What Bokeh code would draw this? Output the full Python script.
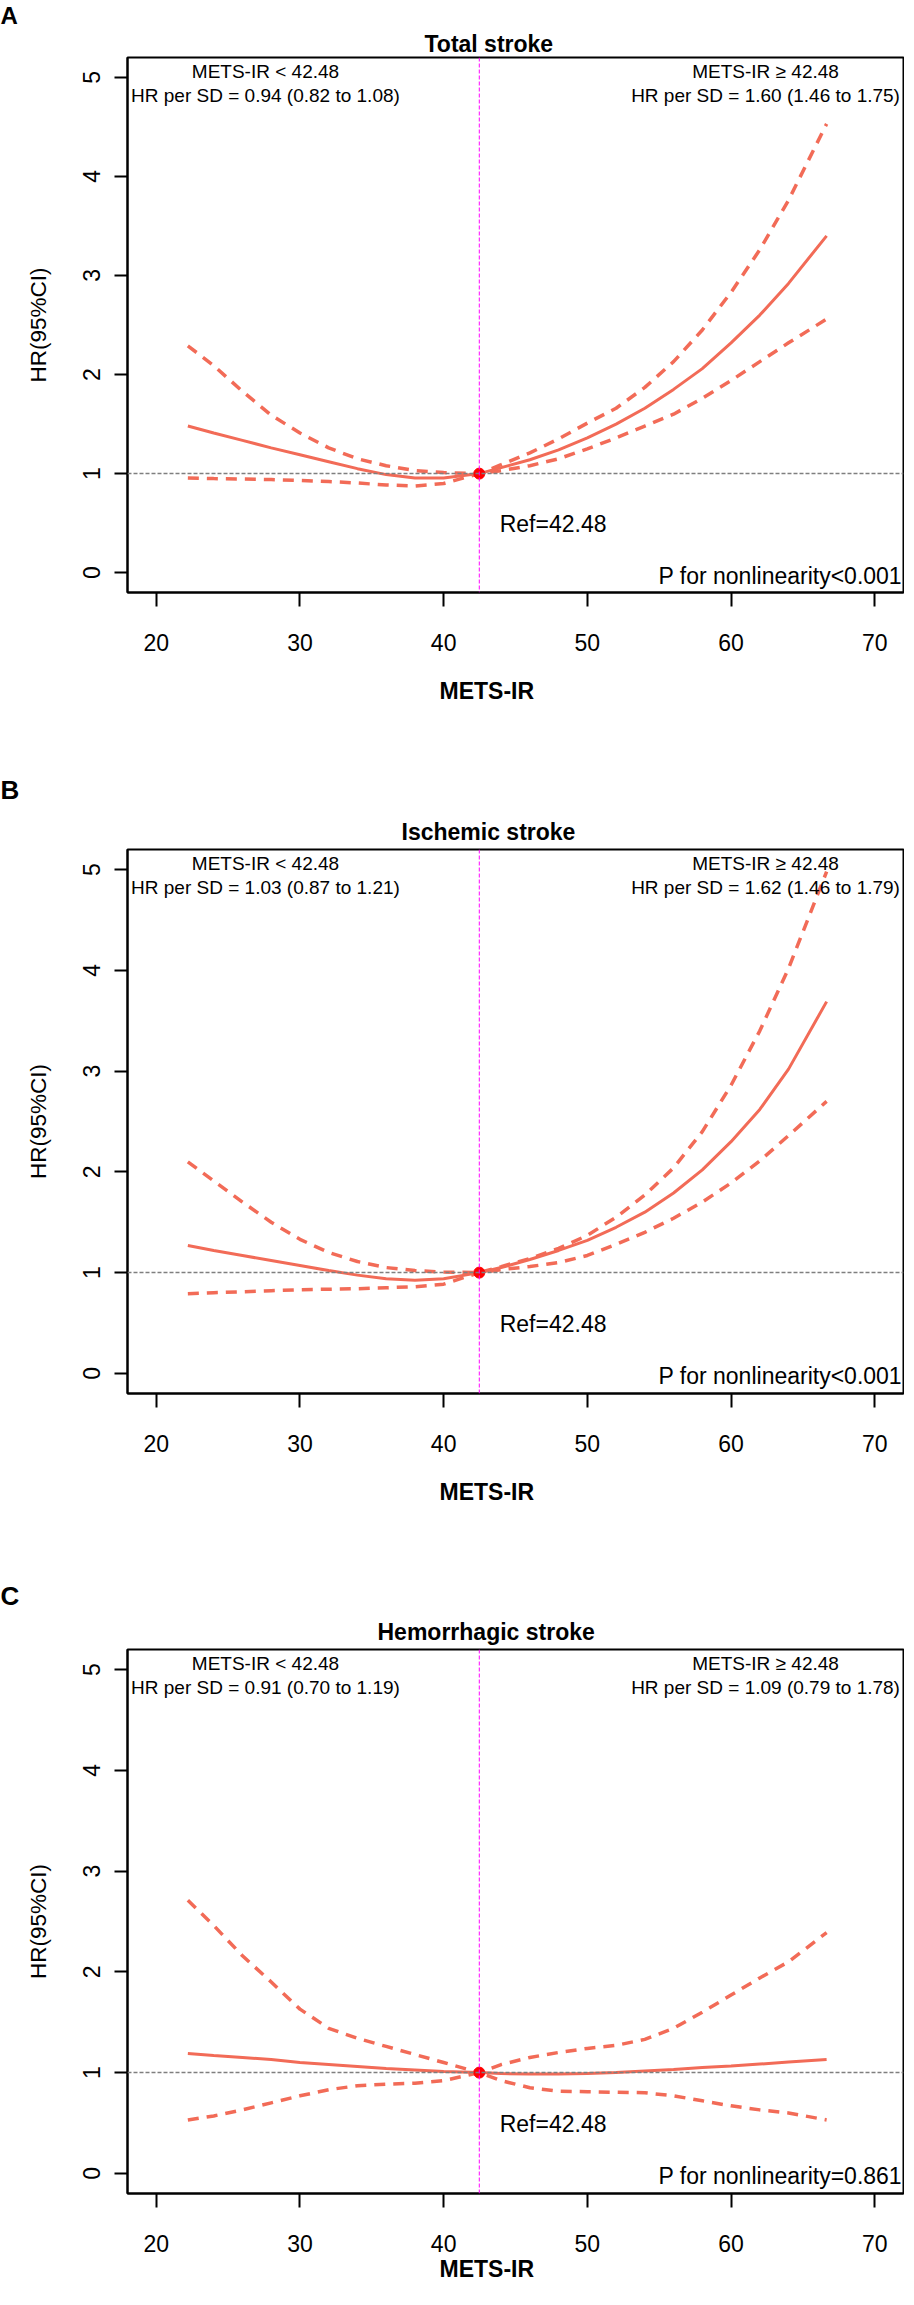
from bokeh.plotting import figure
from bokeh.models import Range1d, FixedTicker, Span, Title
from bokeh.layouts import column
from bokeh.embed import file_html
from bokeh.resources import INLINE
from bokeh.core.properties import value

# ---------------- data ----------------
REF = 42.48
X_TICKS = [20, 30, 40, 50, 60, 70]
Y_TICKS = [0, 1, 2, 3, 4, 5]

METS_IR = [22.2, 24, 26, 28, 30, 32, 34, 36, 38, 40, 42.48,
           44, 46, 48, 50, 52, 54, 56, 58, 60, 62, 64, 66.65]

# Panel A: Total stroke
A_EST = [1.48, 1.41, 1.335, 1.26, 1.19, 1.12, 1.05, 0.99, 0.955, 0.955, 1.0,
         1.06, 1.14, 1.24, 1.36, 1.50, 1.66, 1.85, 2.06, 2.32, 2.60, 2.92, 3.40]
A_LOW = [0.955, 0.95, 0.945, 0.94, 0.93, 0.92, 0.905, 0.885, 0.875, 0.90, 1.0,
         1.03, 1.08, 1.15, 1.25, 1.36, 1.48, 1.60, 1.76, 1.94, 2.13, 2.32, 2.56]
A_UPP = [2.29, 2.09, 1.83, 1.59, 1.41, 1.26, 1.15, 1.08, 1.03, 1.01, 1.0,
         1.09, 1.21, 1.35, 1.51, 1.66, 1.87, 2.13, 2.45, 2.83, 3.26, 3.76, 4.53]

# Panel B: Ischemic stroke
B_EST = [1.27, 1.22, 1.17, 1.12, 1.07, 1.02, 0.975, 0.94, 0.925, 0.94, 1.0,
         1.05, 1.13, 1.22, 1.32, 1.45, 1.60, 1.79, 2.02, 2.30, 2.62, 3.02, 3.69]
B_LOW = [0.79, 0.80, 0.81, 0.82, 0.83, 0.835, 0.84, 0.85, 0.86, 0.885, 1.0,
         1.03, 1.06, 1.10, 1.17, 1.28, 1.40, 1.54, 1.70, 1.89, 2.11, 2.36, 2.70]
B_UPP = [2.10, 1.91, 1.70, 1.50, 1.33, 1.20, 1.11, 1.05, 1.02, 1.005, 1.0,
         1.06, 1.14, 1.24, 1.37, 1.55, 1.77, 2.04, 2.40, 2.86, 3.40, 4.02, 4.98]

# Panel C: Hemorrhagic stroke
C_EST = [1.19, 1.17, 1.15, 1.13, 1.10, 1.08, 1.06, 1.04, 1.025, 1.01, 1.0,
         0.99, 0.985, 0.985, 0.99, 1.0, 1.015, 1.03, 1.05, 1.065, 1.085, 1.105, 1.13]
C_LOW = [0.53, 0.57, 0.63, 0.70, 0.77, 0.83, 0.87, 0.885, 0.895, 0.92, 1.0,
         0.92, 0.85, 0.815, 0.81, 0.805, 0.80, 0.77, 0.72, 0.67, 0.63, 0.60, 0.53]
C_UPP = [2.71, 2.46, 2.16, 1.90, 1.63, 1.44, 1.34, 1.26, 1.18, 1.10, 1.0,
         1.08, 1.15, 1.20, 1.24, 1.27, 1.33, 1.44, 1.60, 1.77, 1.94, 2.10, 2.39]

LETTERS = ["A", "B", "C"]
TITLES = ["Total stroke", "Ischemic stroke", "Hemorrhagic stroke"]
LEFT_TEXT = [
    ["METS-IR < 42.48", "HR per SD = 0.94 (0.82 to 1.08)"],
    ["METS-IR < 42.48", "HR per SD = 1.03 (0.87 to 1.21)"],
    ["METS-IR < 42.48", "HR per SD = 0.91 (0.70 to 1.19)"],
]
RIGHT_TEXT = [
    ["METS-IR \u2265 42.48", "HR per SD = 1.60 (1.46 to 1.75)"],
    ["METS-IR \u2265 42.48", "HR per SD = 1.62 (1.46 to 1.79)"],
    ["METS-IR \u2265 42.48", "HR per SD = 1.09 (0.79 to 1.78)"],
]
P_TEXT = ["P for nonlinearity<0.001", "P for nonlinearity<0.001", "P for nonlinearity=0.861"]
REF_TEXT = "Ref=42.48"
X_TITLE = "METS-IR"
Y_TITLE = "HR(95%CI)"

SERIES = [(A_EST, A_LOW, A_UPP), (B_EST, B_LOW, B_UPP), (C_EST, C_LOW, C_UPP)]

# ---------------- style / layout ----------------
FONT = "Liberation Sans"
CURVE = "#F26B57"
FRAME_W = 776
FRAME_H = [535, 544, 544]
TOP_BORDERS = [57, 82, 70]
HEIGHTS = [766, 811, 704]
LETTER_SIZE = ["24px", "26px", "26px"]
LETTER_STANDOFF = [0, 15, 3]
TITLE_STANDOFF = [0, 8, 8]
TITLE_OFFSET = [297, 274, 250]
XTITLE_STANDOFF = [46, 46, 0]
XLABEL_STANDOFF = 27


def make_panel(i):
    est, low, upp = SERIES[i]
    top = TOP_BORDERS[i]
    fh = FRAME_H[i]
    bottom = HEIGHTS[i] - top - fh
    p = figure(frame_width=FRAME_W, frame_height=fh,
               x_range=Range1d(18, 72), y_range=Range1d(-0.2, 5.2),
               min_border_left=127, min_border_right=1,
               min_border_top=top, min_border_bottom=bottom,
               output_backend="svg", toolbar_location=None)
    p.xgrid.visible = False
    p.ygrid.visible = False
    p.outline_line_color = "black"
    p.outline_line_width = 2
    p.outline_line_alpha = 1.0

    for ax, tick_out in ((p.xaxis[0], 14), (p.yaxis[0], 13)):
        ax.minor_tick_line_color = None
        ax.minor_tick_out = 0
        ax.minor_tick_in = 0
        ax.major_tick_in = 0
        ax.major_tick_out = tick_out
        ax.major_tick_line_width = 2
        ax.major_tick_line_color = "black"
        ax.axis_line_width = 2
        ax.axis_line_color = "black"
        ax.major_label_text_font = FONT
        ax.major_label_text_font_size = "23px"
        ax.major_label_text_color = "black"
    p.xaxis.ticker = FixedTicker(ticks=X_TICKS)
    p.yaxis.ticker = FixedTicker(ticks=Y_TICKS)
    p.xaxis.major_label_standoff = XLABEL_STANDOFF
    p.yaxis.major_label_standoff = 14
    p.yaxis.major_label_orientation = "vertical"
    p.yaxis.axis_label = Y_TITLE
    p.yaxis.axis_label_text_font = FONT
    p.yaxis.axis_label_text_font_size = "22.5px"
    p.yaxis.axis_label_text_font_style = "normal"
    p.yaxis.axis_label_text_color = "black"
    p.yaxis.axis_label_standoff = 30

    # curves
    p.line(METS_IR, upp, line_color=CURVE, line_width=3.5, line_dash="11 8")
    p.line(METS_IR, low, line_color=CURVE, line_width=3.5, line_dash="11 8")
    p.line(METS_IR, est, line_color=CURVE, line_width=3)

    p.add_layout(Span(location=1, dimension="width", line_color="#7f7f7f",
                      line_width=1.5, line_dash="4 2"))
    p.add_layout(Span(location=REF, dimension="height", line_color="#ff00ff",
                      line_width=1, line_dash="4 2"))
    p.scatter([REF], [1], size=11, color="#ff0000", line_color="#ff0000")

    # in-frame texts
    p.text(x=[27.6, 27.6], y=[5.06, 4.82], text=LEFT_TEXT[i],
           text_font=value(FONT), text_font_size="19px", text_color="black",
           text_align="center", text_baseline="middle")
    p.text(x=[62.4, 62.4], y=[5.06, 4.82], text=RIGHT_TEXT[i],
           text_font=value(FONT), text_font_size="19px", text_color="black",
           text_align="center", text_baseline="middle")
    p.text(x=[43.9], y=[0.49], text=[REF_TEXT], text_font=value(FONT),
           text_font_size="23px", text_color="black",
           text_align="left", text_baseline="middle")
    p.text(x=[71.9], y=[-0.03], text=[P_TEXT[i]], text_font=value(FONT),
           text_font_size="23px", text_color="black",
           text_align="right", text_baseline="middle")

    # titles outside the frame (side panels)
    p.add_layout(Title(text=TITLES[i], align="left", offset=TITLE_OFFSET[i],
                       vertical_align="middle", standoff=TITLE_STANDOFF[i],
                       text_font=FONT, text_font_size="23px",
                       text_font_style="bold", text_color="black"), "above")
    p.add_layout(Title(text=LETTERS[i], align="left", offset=-127,
                       vertical_align="middle", standoff=LETTER_STANDOFF[i],
                       text_font=FONT, text_font_size=LETTER_SIZE[i],
                       text_font_style="bold", text_color="black"), "above")
    p.add_layout(Title(text=X_TITLE, align="left", offset=312,
                       vertical_align="middle", standoff=XTITLE_STANDOFF[i],
                       text_font=FONT, text_font_size="23px",
                       text_font_style="bold", text_color="black"), "below")
    return p


panels = [make_panel(i) for i in range(3)]
layout = column(*panels, spacing=0)

open("out.html", "w").write(file_html(layout, INLINE))
